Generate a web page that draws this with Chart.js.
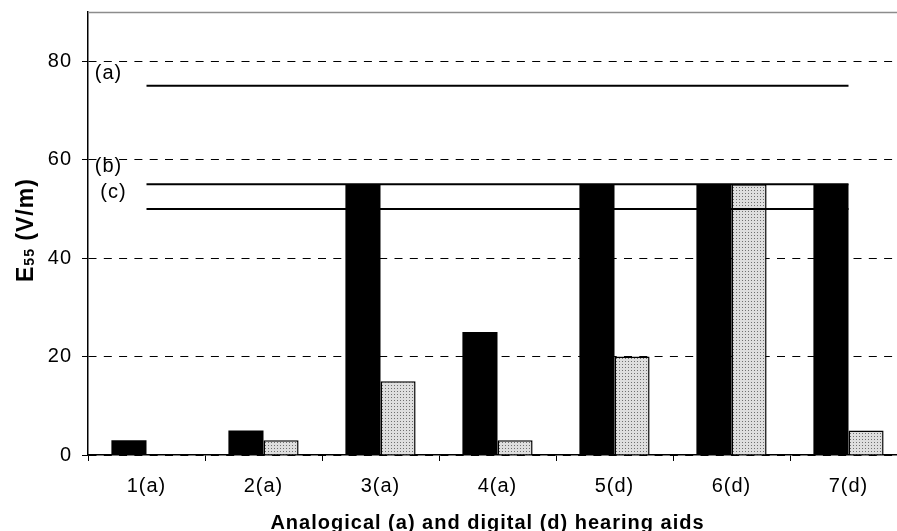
<!DOCTYPE html>
<html><head><meta charset="utf-8">
<script src="https://cdn.jsdelivr.net/npm/chart.js@4/dist/chart.umd.min.js"></script>
<style>
html,body{margin:0;padding:0;overflow:hidden;background:#fff;width:897px;height:531px}
#wrap{position:absolute;left:0;top:0;width:907px;height:531px}
</style>
</head><body>
<div id="wrap"><canvas id="c" width="907" height="531"></canvas></div>
<script>
// ---- data ----
const categories = ['1(a)', '2(a)', '3(a)', '4(a)', '5(d)', '6(d)', '7(d)'];
const blackBars  = [3, 5, 55, 25, 55, 55, 55];
const dottedBars = [0, 3, 15, 3, 20, 55, 5];
const lineA = [75, 75, 75, 75, 75, 75, 75];
const lineB = [55, 55, 55, 55, 55, 55, 55];
const lineC = [50, 50, 50, 50, 50, 50, 50];
const lineLabels = ['(a)', '(b)', '(c)'];
const yTicks = [0, 20, 40, 60, 80];
const yMin = 0, yMax = 90;
const xTitle = 'Analogical (a) and digital (d) hearing aids';
const yTitleMain = 'E', yTitleSub = '55', yTitleUnit = ' (V/m)';

// ---- styles ----
const FONT = "'Liberation Sans', Arial, sans-serif";

function makePattern() {
  const p = document.createElement('canvas');
  p.width = 3; p.height = 3;
  const g = p.getContext('2d');
  g.fillStyle = '#dedede';
  g.fillRect(0, 0, 3, 3);
  g.fillStyle = '#707070';
  g.fillRect(1, 1, 1, 1);
  return g.createPattern(p, 'repeat');
}
const dotted = makePattern();

const spacingPlugin = {
  id: 'spacing',
  beforeLayout(chart) { chart.ctx.letterSpacing = '1px'; },
  beforeDraw(chart) { chart.ctx.letterSpacing = '1px'; }
};

const labelOffsets = [{dx: -38, dy: -6.5}, {dx: -38, dy: -12.5}, {dx: -33, dy: -11}];

const decorPlugin = {
  id: 'decor',
  afterDatasetsDraw(chart) {
    const ctx = chart.ctx, xs = chart.scales.x, ys = chart.scales.y;
    ctx.save();
    ctx.letterSpacing = '1px';
    ctx.fillStyle = '#000';
    ctx.font = '20px ' + FONT;
    ctx.textAlign = 'center';
    ctx.textBaseline = 'alphabetic';
    const lines = [lineA, lineB, lineC];
    lines.forEach((arr, i) => {
      const x = xs.getPixelForValue(0) + labelOffsets[i].dx;
      const y = ys.getPixelForValue(arr[0]) + labelOffsets[i].dy;
      ctx.fillText(lineLabels[i], x, y);
    });
    ctx.restore();
  },
  afterDraw(chart) {
    const ctx = chart.ctx, a = chart.chartArea;
    ctx.save();
    // top border
    ctx.strokeStyle = '#8c8c8c';
    ctx.lineWidth = 1.5;
    ctx.beginPath();
    ctx.moveTo(a.left, a.top + 0.5);
    ctx.lineTo(a.right, a.top + 0.5);
    ctx.stroke();
    // x title
    ctx.letterSpacing = '1px';
    ctx.fillStyle = '#000';
    ctx.font = 'bold 20px ' + FONT;
    ctx.textAlign = 'center';
    ctx.textBaseline = 'alphabetic';
    ctx.fillText(xTitle, (a.left + a.right) / 2 - 10, 529);
    // y title
    ctx.translate(33, 282);
    ctx.rotate(-Math.PI / 2);
    ctx.textAlign = 'left';
    let x = 0;
    ctx.font = 'bold 23px ' + FONT;
    ctx.fillText(yTitleMain, x, 0);
    x += ctx.measureText(yTitleMain).width;
    ctx.font = 'bold 14px ' + FONT;
    ctx.fillText(yTitleSub, x, 1);
    x += ctx.measureText(yTitleSub).width;
    ctx.font = 'bold 23px ' + FONT;
    ctx.fillText(yTitleUnit, x, 0);
    ctx.restore();
  }
};

new Chart(document.getElementById('c'), {
  data: {
    labels: categories,
    datasets: [
      {type: 'line', label: lineLabels[0], data: lineA, borderColor: '#000', borderWidth: 2, pointRadius: 0, fill: false, order: 0},
      {type: 'line', label: lineLabels[1], data: lineB, borderColor: '#000', borderWidth: 2, pointRadius: 0, fill: false, order: 0},
      {type: 'line', label: lineLabels[2], data: lineC, borderColor: '#000', borderWidth: 2, pointRadius: 0, fill: false, order: 0},
      {type: 'bar', label: 'black', data: blackBars, backgroundColor: '#000', borderWidth: 0,
       categoryPercentage: 0.6, barPercentage: 1.0, order: 1},
      {type: 'bar', label: 'dotted', data: dottedBars, backgroundColor: dotted, borderColor: '#000', borderWidth: 1.5,
       categoryPercentage: 0.6, barPercentage: 1.0, order: 1}
    ]
  },
  options: {
    responsive: false,
    animation: false,
    devicePixelRatio: 1,
    layout: {padding: {top: 12, left: 0, right: 0, bottom: 0}},
    plugins: {legend: {display: false}, tooltip: {enabled: false}},
    scales: {
      x: {
        offset: true,
        grid: {display: true, drawOnChartArea: false, drawTicks: true, tickLength: 6, offset: true,
               tickColor: '#000', tickWidth: 1},
        border: {display: true, color: '#000', width: 1.5},
        ticks: {color: '#000', font: {family: FONT, size: 20}, padding: 13, maxRotation: 0},
        afterFit(s) { s.height = 76; s.paddingLeft = 0; s.paddingRight = 0; }
      },
      y: {
        min: yMin, max: yMax,
        afterBuildTicks(s) { s.ticks = yTicks.map(v => ({value: v})); },
        grid: {color: '#000', lineWidth: 1, drawTicks: true, tickLength: 6, tickColor: '#000', tickWidth: 1,
               tickBorderDash: []},
        border: {display: true, color: '#000', width: 1.5, dash: [8, 7.3]},
        ticks: {color: '#000', font: {family: FONT, size: 20}, padding: 10},
        afterFit(s) { s.width = 88; s.paddingTop = 0; s.paddingBottom = 0; }
      }
    }
  },
  plugins: [spacingPlugin, decorPlugin]
});
</script>
</body></html>
